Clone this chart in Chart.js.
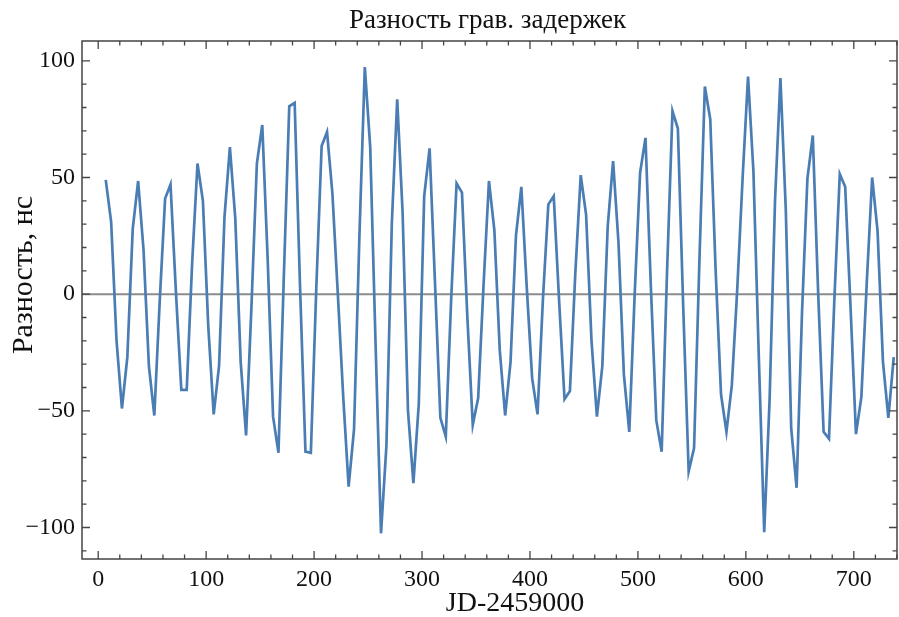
<!DOCTYPE html>
<html><head><meta charset="utf-8">
<script src="https://cdn.jsdelivr.net/npm/chart.js@4.4.1/dist/chart.umd.min.js"></script>
<style>html,body{margin:0;padding:0;background:#fff}#wrap{width:899px;height:617px;position:relative}</style>
</head><body><div id="wrap"><canvas id="c" width="899" height="617"></canvas></div>
<script>
const titleText = 'Разность грав. задержек';
const xLabel = 'JD-2459000';
const yLabel = 'Разность, нс';
const days = [7,12,17,22,27,32,37,42,47,52,57,62,67,72,77,82,87,92,97,102,107,112,117,122,127,132,137,142,147,152,157,162,167,172,177,182,187,192,197,202,207,212,217,222,227,232,237,242,247,252,257,262,267,272,277,282,287,292,297,302,307,312,317,322,327,332,337,342,347,352,357,362,367,372,377,382,387,392,397,402,407,412,417,422,427,432,437,442,447,452,457,462,467,472,477,482,487,492,497,502,507,512,517,522,527,532,537,542,547,552,557,562,567,572,577,582,587,592,597,602,607,612,617,622,627,632,637,642,647,652,657,662,667,672,677,682,687,692,697,702,707,712,717,722,727,732,737];
const delay = [49,31,-20,-49,-27,28,48.5,19,-31,-52,-3,41,47,1,-41,-41,13,56,40,-14,-51.5,-30.5,33,63,32.5,-29,-60.5,-5,56,72.5,15,-52.5,-68,8,80.5,82,3,-67.5,-68,2,63.5,69.5,43,0,-44,-82.5,-58,25,97.3,63,-22,-102.5,-65,30,83.5,35,-50,-81,-47,42,62.5,5,-53,-61,-2,47.5,43.5,-10,-56,-44.5,4,48.5,27.5,-24,-52,-29,25,46,3,-36,-51.5,-2,38.5,42,-3,-45,-41.5,9,51,34,-20,-52.5,-31,29,57,22,-34.5,-59,0,52,67,3,-54,-67.5,10,78.5,71,-6,-76,-66,15,89,75,10,-43,-59,-39,2,50,93.3,52.5,-27,-102,-45,40,92.6,36,-57.5,-83,-8,49.5,68,0,-59,-62,-2,51.5,46,-6,-60,-44,5,50,27,-29,-53,-27];
const xTicks = [0,100,200,300,400,500,600,700];
const yTicks = [-100,-50,0,50,100];
const xMinorStep = 20;
const yMinorStep = 10;

const serif = "'Liberation Serif','DejaVu Serif',serif";
const fmt = v => (v < 0 ? '\u2212' + Math.abs(v) : String(v));

const framePlugin = {
  id: 'frame',
  beforeDatasetsDraw(chart) {
    const {ctx, chartArea: a, scales: {y}} = chart;
    const y0 = y.getPixelForValue(0);
    ctx.save();
    ctx.strokeStyle = '#8c8c8c';
    ctx.lineWidth = 2;
    ctx.beginPath(); ctx.moveTo(a.left, y0); ctx.lineTo(a.right, y0); ctx.stroke();
    ctx.restore();
  },
  afterDraw(chart) {
    const {ctx, chartArea: a, scales: {x, y}} = chart;
    ctx.save();
    ctx.strokeStyle = '#444';
    ctx.lineWidth = 1.5;
    ctx.strokeRect(a.left, a.top, a.right - a.left, a.bottom - a.top);
    ctx.lineWidth = 1.3;
    ctx.beginPath();
    for (let v = Math.ceil(x.min / xMinorStep) * xMinorStep; v <= x.max; v += xMinorStep) {
      const px = x.getPixelForValue(v);
      const len = (v % 100 === 0) ? 8 : 4.5;
      ctx.moveTo(px, a.bottom); ctx.lineTo(px, a.bottom - len);
      ctx.moveTo(px, a.top); ctx.lineTo(px, a.top + len);
    }
    for (let v = Math.ceil(y.min / yMinorStep) * yMinorStep; v <= y.max; v += yMinorStep) {
      const py = y.getPixelForValue(v);
      const len = (v % 50 === 0) ? 8 : 4.5;
      ctx.moveTo(a.left, py); ctx.lineTo(a.left + len, py);
      ctx.moveTo(a.right, py); ctx.lineTo(a.right - len, py);
    }
    ctx.stroke();
    ctx.fillStyle = '#111';
    ctx.textAlign = 'center';
    ctx.textBaseline = 'middle';
    ctx.font = '27px ' + serif;
    ctx.fillText(titleText, (a.left + a.right) / 2 - 2, 21);
    ctx.font = '28px ' + serif;
    ctx.fillText(xLabel, 515, 604);
    ctx.font = '30px ' + serif;
    ctx.translate(24, 275);
    ctx.rotate(-Math.PI / 2);
    ctx.fillText(yLabel, 0, 0);
    ctx.restore();
  }
};

new Chart(document.getElementById('c'), {
  type: 'line',
  data: {
    datasets: [{
      data: days.map((d, i) => ({x: d, y: delay[i]})),
      borderColor: '#4a7db3',
      borderWidth: 2.7,
      pointRadius: 0,
      tension: 0,
      fill: false
    }]
  },
  options: {
    responsive: false,
    animation: false,
    devicePixelRatio: 1,
    layout: {padding: {top: 41, right: 2, left: 0, bottom: 0}},
    plugins: {legend: {display: false}, tooltip: {enabled: false}, title: {display: false}},
    scales: {
      x: {
        type: 'linear', min: -15, max: 740,
        afterFit(s) { s.height = 58; },
        afterBuildTicks(s) { s.ticks = xTicks.map(v => ({value: v})); },
        grid: {display: false, drawTicks: false},
        border: {display: false},
        ticks: {padding: 6, color: '#111', maxRotation: 0, autoSkip: false, font: {family: serif, size: 24}, callback: v => fmt(v)}
      },
      y: {
        type: 'linear', min: -113.5, max: 108.5,
        afterFit(s) { s.width = 82; },
        afterBuildTicks(s) { s.ticks = yTicks.map(v => ({value: v})); },
        grid: {display: false, drawTicks: false},
        border: {display: false},
        ticks: {padding: 7, color: '#111', autoSkip: false, font: {family: serif, size: 24}, callback: v => fmt(v)}
      }
    }
  },
  plugins: [framePlugin]
});
</script></body></html>
